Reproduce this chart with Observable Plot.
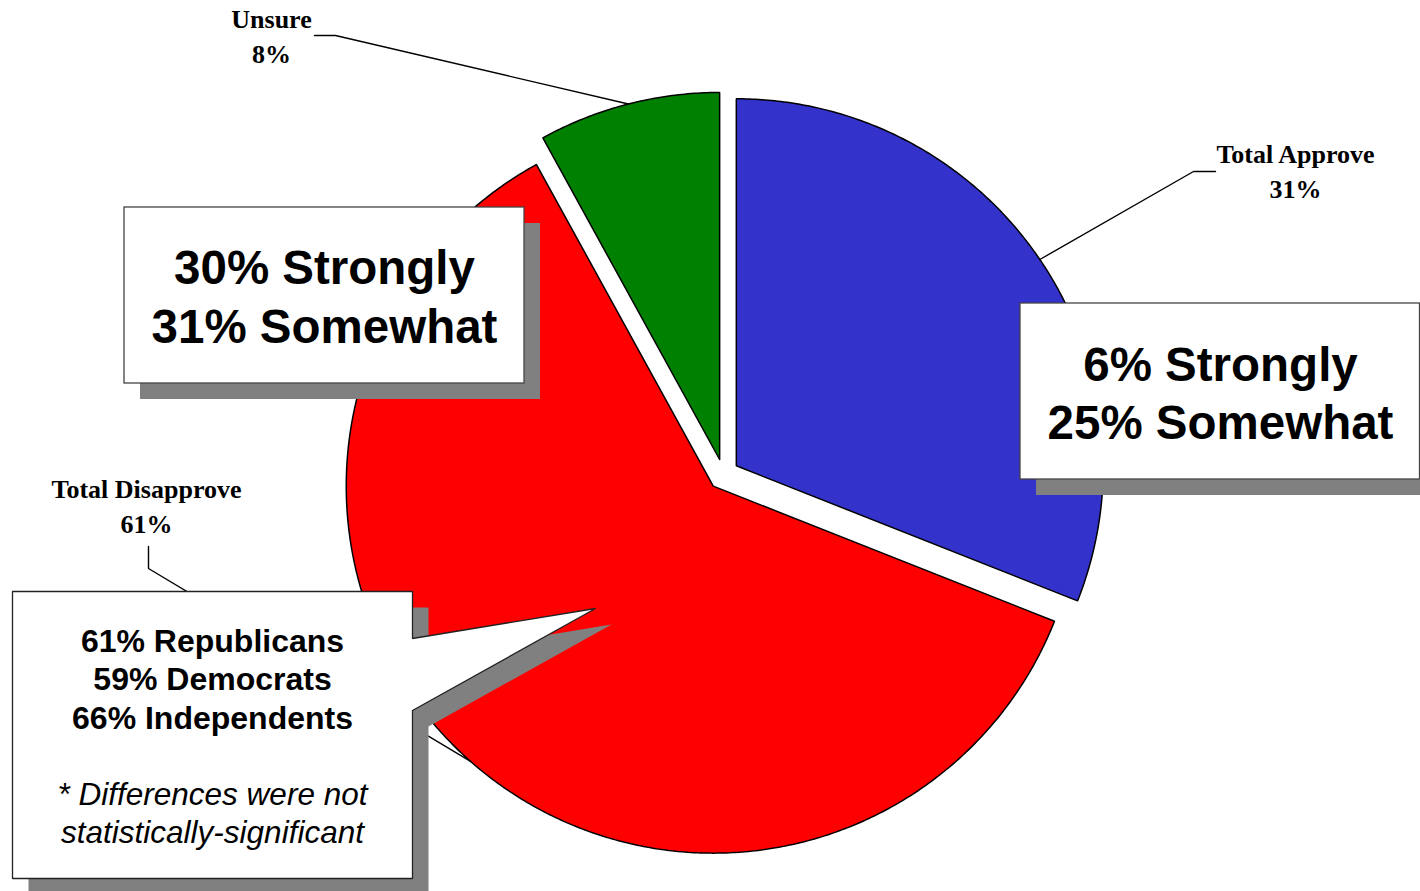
<!DOCTYPE html>
<html><head><meta charset="utf-8">
<script src="https://cdn.jsdelivr.net/npm/d3@7"></script>
<script src="https://cdn.jsdelivr.net/npm/@observablehq/plot@0.6"></script>
<style>
html,body{margin:0;padding:0;background:#fff;overflow:hidden;}
#chart svg{display:block;}
</style></head><body><div id="chart"></div>
<script>
// ---------- data ----------
const categories = ["Total Approve", "Total Disapprove", "Unsure"];
const values = [31, 61, 8];
const sliceColors = ["#3333CC", "#FF0000", "#008000"];
const approveDetail = ["6% Strongly", "25% Somewhat"];
const disapproveDetail = ["30% Strongly", "31% Somewhat"];
const partyDetail = ["61% Republicans", "59% Democrats", "66% Independents"];
const partyNote = ["* Differences were not", "statistically-significant"];

// ---------- layout (page pixels) ----------
const W = 1420, H = 891;
const CX = 723, CY = 474, R = 367, EXPLODE = 15.5, SHADOW = 16;
const U = px => (px - CX) / R;   // page x -> pie units
const V = py => (CY - py) / R;   // page y -> pie units
const SANS = "'Liberation Sans', Arial, Helvetica, sans-serif";
const SERIF = "'Liberation Serif', 'Times New Roman', serif";

const labelLayout = {
  "Total Approve":    {tx: 1295, ty: [162, 197], path: [[1193, 171], [1215, 171]]},
  "Total Disapprove": {tx: 146,  ty: [497, 532], path: [[148, 568], [148, 546]]},
  "Unsure":           {tx: 271,  ty: [27, 62],   path: [[335, 35], [314, 35]]}
};
const boxLayout = [
  {x1: 124, y1: 207, x2: 524, y2: 383, cx: 324, base: [283, 342], lines: disapproveDetail},
  {x1: 1020, y1: 303, x2: 1419.5, y2: 479, cx: 1220, base: [380, 438], lines: approveDetail}
];
const callout = {shape: [[12, 591], [412, 591], [412, 638], [595, 608], [412, 710], [412, 878], [12, 878], [12, 591]],
  cx: 212, base: [651, 689, 728], noteBase: [804, 842]};

// ---------- pie geometry from data ----------
const arcs = d3.pie().sort(null).value(d => d)(values);
const slices = arcs.map((p, i) => {
  const mid = (p.startAngle + p.endAngle) / 2;
  const ox = Math.sin(mid) * EXPLODE / R, oy = Math.cos(mid) * EXPLODE / R;
  const n = Math.max(8, Math.ceil((p.endAngle - p.startAngle) / (Math.PI / 360)));
  const pts = [{x: ox, y: oy}];
  for (let k = 0; k <= n; k++) {
    const a = p.startAngle + (p.endAngle - p.startAngle) * k / n;
    pts.push({x: ox + Math.sin(a), y: oy + Math.cos(a)});
  }
  pts.push({x: ox, y: oy});
  return {name: categories[i], value: values[i], color: sliceColors[i], mid, ox, oy, pts};
});

const sliceMarks = slices.map(s => Plot.line(s.pts, {
  x: "x", y: "y", fill: s.color, stroke: "black", strokeWidth: 1.5,
  strokeLinejoin: "miter", curve: "linear"
}));

const leaderMarks = slices.map(s => {
  const L = labelLayout[s.name];
  const pts = [{x: s.ox + Math.sin(s.mid), y: s.oy + Math.cos(s.mid)}]
    .concat(L.path.map(([px, py]) => ({x: U(px), y: V(py)})));
  return Plot.line(pts, {x: "x", y: "y", stroke: "black", strokeWidth: 1.4, strokeLinejoin: "miter"});
});

const labelRows = slices.flatMap(s => {
  const L = labelLayout[s.name];
  return [
    {x: U(L.tx), y: V(L.ty[0]), text: s.name},
    {x: U(L.tx), y: V(L.ty[1]), text: `${s.value}%`}
  ];
});

const boxRects = boxLayout.map(b => ({x1: U(b.x1), x2: U(b.x2), y1: V(b.y1), y2: V(b.y2)}));
const shadowRects = boxLayout.map(b => ({x1: U(b.x1 + SHADOW), x2: U(b.x2 + SHADOW), y1: V(b.y1 + SHADOW), y2: V(b.y2 + SHADOW)}));
const boxText = boxLayout.flatMap(b => b.lines.map((t, i) => ({x: U(b.cx), y: V(b.base[i]), text: t})));

const calloutPts = callout.shape.map(([px, py]) => ({x: U(px), y: V(py)}));
const calloutShadow = callout.shape.map(([px, py]) => ({x: U(px + SHADOW), y: V(py + SHADOW)}));
const partyText = partyDetail.map((t, i) => ({x: U(callout.cx), y: V(callout.base[i]), text: t}));
const noteText = partyNote.map((t, i) => ({x: U(callout.cx), y: V(callout.noteBase[i]), text: t}));

const chart = Plot.plot({
  width: W, height: H, margin: 0,
  x: {domain: [U(0), U(W)], axis: null},
  y: {domain: [V(H), V(0)], axis: null},
  style: {background: "white", overflow: "hidden"},
  marks: [
    ...sliceMarks,
    ...leaderMarks,
    Plot.text(labelRows, {x: "x", y: "y", text: "text", textAnchor: "middle", lineAnchor: "bottom",
      fontFamily: SERIF, fontWeight: "bold", fontSize: 26, fill: "black"}),
    Plot.rect(shadowRects, {x1: "x1", x2: "x2", y1: "y1", y2: "y2", fill: "#808080"}),
    Plot.line(calloutShadow, {x: "x", y: "y", fill: "#808080", stroke: "none", curve: "linear"}),
    Plot.rect(boxRects, {x1: "x1", x2: "x2", y1: "y1", y2: "y2", fill: "white", stroke: "#444", strokeWidth: 1.3}),
    Plot.line(calloutPts, {x: "x", y: "y", fill: "white", stroke: "#222", strokeWidth: 1.3, strokeLinejoin: "miter", curve: "linear"}),
    Plot.text(boxText, {x: "x", y: "y", text: "text", textAnchor: "middle", lineAnchor: "bottom",
      fontFamily: SANS, fontWeight: "bold", fontSize: 47.5, fill: "black"}),
    Plot.text(partyText, {x: "x", y: "y", text: "text", textAnchor: "middle", lineAnchor: "bottom",
      fontFamily: SANS, fontWeight: "bold", fontSize: 32, fill: "black"}),
    Plot.text(noteText, {x: "x", y: "y", text: "text", textAnchor: "middle", lineAnchor: "bottom",
      fontFamily: SANS, fontStyle: "italic", fontSize: 31.5, fill: "black"})
  ]
});
document.getElementById("chart").appendChild(chart);
</script></body></html>
